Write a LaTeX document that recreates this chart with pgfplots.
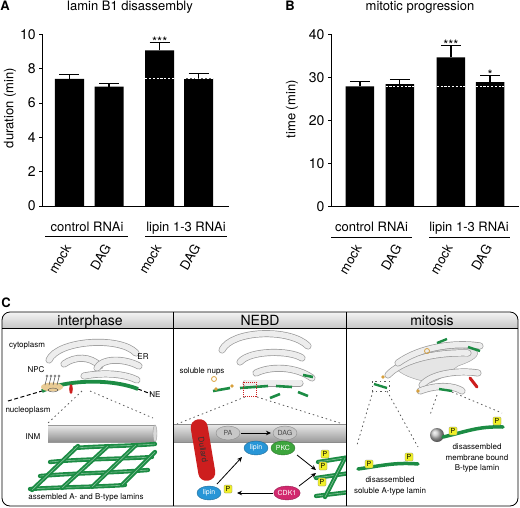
\documentclass[border=0pt]{standalone}
\usepackage{fontspec}
\setmainfont{TeX Gyre Heros}
\usepackage{pgfplots}
\pgfplotsset{compat=1.18}
\usetikzlibrary{arrows.meta,shapes.geometric}
\definecolor{lgreen}{RGB}{28,140,68}
\definecolor{lblue}{RGB}{40,150,215}
\definecolor{pkc}{RGB}{60,165,60}
\definecolor{cdk}{RGB}{210,40,110}
\definecolor{dull}{RGB}{205,30,30}
\definecolor{pyel}{RGB}{240,240,40}
\definecolor{orng}{RGB}{215,160,60}
\newcommand{\fs}[1]{\fontsize{#1}{#1}\selectfont}
\tikzset{
  er/.style={line width=7pt, draw=black!40, line cap=round},
  eri/.style={line width=5.6pt, draw=black!7, line cap=round},
  P/.style={fill=pyel, draw=black!50, line width=0.3pt, rounded corners=1pt, inner sep=0.6pt, minimum size=8pt, font=\fs{7}},
  lam/.style={lgreen, line width=3.5pt, line cap=round},
  mesh/.style={lgreen, line width=4.3pt, line cap=round},
  dots/.style={black!65, line width=0.8pt, dash pattern=on 1.5pt off 3pt},
  arr/.style={-{Stealth[length=5pt,width=4.5pt]}, line width=0.8pt},
  prot/.style={ellipse, minimum width=24pt, minimum height=14pt, inner sep=0pt, font=\fs{7}},
}
\newcommand{\er}[1]{\draw[er] #1; \draw[eri] #1;}
\pgfplotsset{
  common/.style={
    anchor=south west, scale only axis,
    axis x line*=bottom, axis y line*=left,
    axis line style={line width=0.9pt},
    every tick/.style={black, line width=0.9pt},
    tick align=outside, major tick length=3.5pt,
    xtick={0,1,2.28,3.26}, xticklabels={mock,DAG,mock,DAG},
    xtick style={draw=none},
    xticklabel style={rotate=60, anchor=east, font=\fs{13}},
    xticklabel shift=33pt,
    yticklabel style={font=\fs{14}},
    /pgf/number format/assume math mode=true,
    clip=false,
  },
  errs/.style={ybar, bar shift=0pt, fill=black, draw=none,
    error bars/.cd, y dir=plus, y explicit,
    error bar style={line width=1.2pt, black},
    error mark options={rotate=90, mark size=10pt, line width=1.2pt, black}},
  dsh/.style={white, line width=1.2pt, dash pattern=on 2.2pt off 1.6pt},
}
\begin{document}
\begin{tikzpicture}
\path[use as bounding box] (0pt,0pt) rectangle (520pt,-507pt);

% ---------- Panel A ----------
\begin{axis}[common,
  at={(42.7pt,-206pt)}, width=186.3pt, height=171.7pt,
  xmin=-0.677, xmax=4.03, ymin=0, ymax=10,
  ytick={0,2,4,6,8,10},
  ylabel={duration (min)},
  ylabel style={font=\fs{13}, at={(axis description cs:-0.176,0.571)}, anchor=center},
]
\addplot[bar width=0.733, errs] coordinates {
  (0,7.40) +- (0,0.27)
  (1,6.95) +- (0,0.19)
  (2.28,9.07) +- (0,0.44)
  (3.26,7.44) +- (0,0.29)};
\addplot[dsh] coordinates {(1.914,7.42) (2.646,7.42)};
\addplot[dsh] coordinates {(2.894,7.42) (3.626,7.42)};
\node[font=\fs{13}, anchor=base] at (axis cs:2.28,9.31) {***};
\end{axis}

% ---------- Panel B ----------
\begin{axis}[common,
  at={(331.5pt,-206.3pt)}, width=187.5pt, height=172pt,
  xmin=-0.714, xmax=3.985, ymin=0, ymax=40,
  ytick={0,10,20,30,40},
  ylabel={time (min)},
  ylabel style={font=\fs{13}, at={(axis description cs:-0.21,0.564)}, anchor=center},
]
\addplot[bar width=0.714, errs] coordinates {
  (0,27.9) +- (0,1.1)
  (1,28.4) +- (0,1.0)
  (2.28,34.65) +- (0,2.7)
  (3.26,28.9) +- (0,1.5)};
\addplot[dsh] coordinates {(0.643,27.9) (1.357,27.9)};
\addplot[dsh] coordinates {(1.923,27.9) (2.637,27.9)};
\addplot[dsh] coordinates {(2.903,27.9) (3.617,27.9)};
\node[font=\fs{13}, anchor=base] at (axis cs:2.28,36.55) {***};
\node[font=\fs{13}, anchor=base] at (axis cs:3.26,29.6) {*};
\end{axis}

\begin{scope}[x=1pt,y=-1pt]
% titles and panel letters
\node[font=\bfseries\fs{13}, anchor=base] at (5,10) {A};
\node[font=\fs{13}, anchor=base] at (130,10) {lamin B1 disassembly};
\node[font=\bfseries\fs{13}, anchor=base] at (290,10) {B};
\node[font=\fs{13}, anchor=base] at (420,10) {mitotic progression};
% group labels
\node[font=\fs{13}, anchor=base] at (87,231) {control RNAi};
\draw[line width=0.9pt] (45,236.5) -- (128,236.5);
\node[font=\fs{13}, anchor=base] at (186,231) {lipin 1-3 RNAi};
\draw[line width=0.9pt] (145,236.5) -- (227,236.5);
\node[font=\fs{13}, anchor=base] at (371.5,231) {control RNAi};
\draw[line width=0.9pt] (331,237) -- (412,237);
\node[font=\fs{13}, anchor=base] at (469,231) {lipin 1-3 RNAi};
\draw[line width=0.9pt] (429,237) -- (510,237);

% ---------- Panel C ----------
\node[font=\bfseries\fs{13}, anchor=base] at (6,307) {C};
\begin{scope}
\clip[rounded corners=8pt] (2,312) rectangle (518,506);
\shade[top color=black!4, bottom color=black!22] (2,312) rectangle (518,328);
\end{scope}
\node[font=\fs{14}, anchor=base] at (90,325) {interphase};
\node[font=\fs{14}, anchor=base] at (260,325) {NEBD};
\node[font=\fs{14}, anchor=base] at (432,325) {mitosis};

% interphase
\er{(49,360) .. controls (58,340) and (120,336) .. (136,353)}
\er{(64,364) .. controls (75,356) and (90,356) .. (100,366)}
\er{(97,368) .. controls (102,358) and (124,358) .. (139,366)}
\er{(84,376) .. controls (105,372) and (125,374) .. (137,380)}
\draw[lgreen, line width=3.8pt] (42,391) .. controls (65,380) and (110,378) .. (138,389);
\draw[line width=1pt, dash pattern=on 4pt off 2.5pt] (8,401) -- (42,391);
\draw[line width=1pt, dash pattern=on 4pt off 2.5pt] (138,389) -- (151,394);
\fill[orng!55] (52,387) ellipse [x radius=11, y radius=4.5];
\foreach \x in {45,49,53,57} {\draw[black!70, line width=0.5pt] (\x,385) -- (\x+2,377); \draw[black!70, line width=0.4pt] (\x+2,376) circle (1.2pt);}
\draw[black!70, line width=0.4pt] (53,390) ellipse [x radius=5, y radius=2];
\fill[dull] (71,389) ellipse [x radius=1.8, y radius=5];
\draw[dots] (82,391) -- (48,423);
\draw[dots] (90,391) -- (153,418);
\shade[top color=black!8, bottom color=black!45] (48,425) rectangle (155,442);
\draw[black!40, line width=0.4pt] (48,425) -- (155,425) (48,442) -- (155,442);
\draw[black!40, line width=0.4pt, fill=black!15] (155,433.5) ellipse [x radius=2, y radius=8.5];
\foreach \p in {
  {(75,448) .. controls (100,446) and (130,446) .. (155,444)},
  {(50,462) .. controls (80,459) and (120,459) .. (152,457)},
  {(40,476) .. controls (75,473) and (110,473) .. (148,470)},
  {(30,489) .. controls (60,487) and (95,487) .. (125,485)},
  {(32,490) -- (78,446)}, {(62,488) -- (108,446)},
  {(92,487) -- (136,445)}, {(122,485) -- (155,452)}}
  {\draw[mesh] \p; \draw[lgreen!55!white, line width=0.6pt] \p;}
\node[font=\fs{8}] at (27,345) {cytoplasm};
\node[font=\fs{8}] at (143,357) {ER};
\node[font=\fs{8}] at (36,370) {NPC};
\node[font=\fs{8}] at (155,395) {NE};
\node[font=\fs{8}] at (28,410) {nucleoplasm};
\node[font=\fs{8}] at (33,437) {INM};
\node[font=\fs{8}] at (86,497) {assembled A- and B-type lamins};

% NEBD
\er{(222,350) .. controls (232,330) and (290,328) .. (308,346)}
\er{(240,362) .. controls (250,350) and (290,350) .. (302,358)}
\er{(256,373) .. controls (270,366) and (295,366) .. (312,378)}
\er{(246,383) -- (300,383)}
\foreach \p in {{(213,391) -- (230,388)}, {(240,388) -- (268,386)}, {(276,386) -- (292,387)},
  {(298,392) -- (308,396)}, {(303,375) -- (313,377)}, {(270,398) -- (280,394)}}
  {\draw[lgreen, line width=2.6pt] \p;}
\draw[orng, line width=0.8pt] (214,379) circle (2.5pt);
\fill[orng] (216,389) circle (1.8pt);
\fill[orng] (232,386) circle (1.8pt);
\draw[dull, dash pattern=on 1pt off 1pt, line width=0.5pt] (243,382) rectangle (256,396);
\node[font=\fs{8}] at (202,371) {soluble nups};
\draw[dots] (245,397) -- (177,424);
\draw[dots] (257,397) -- (340,423);
\shade[top color=black!8, bottom color=black!40] (173,424) rectangle (346,442);
\draw[black!45, line width=0.4pt] (173,424) -- (346,424) (173,442) -- (346,442);
\node[fill=dull, rounded corners=8pt, minimum width=62pt, minimum height=17pt, rotate=-80.5, font=\fs{8}, text=black!80] at (203,450) {Dullard};
\node[prot, fill=black!22, draw=black!45, text=black!70] at (228,433) {PA};
\node[prot, fill=black!22, draw=black!45, text=black!70] at (285,433) {DAG};
\node[prot, fill=lblue, draw=lblue!70!black, text=white] at (256,448) {lipin};
\node[prot, fill=pkc, draw=pkc!70!black, text=white] at (283,448) {PKC};
\node[prot, fill=lblue, draw=lblue!70!black, text=white] at (209,493) {lipin};
\node[P] at (228,489) {P};
\node[prot, fill=cdk, draw=cdk!70!black, text=white] at (287,493) {CDK1};
\draw[arr] (241,433) -- (271,433);
\draw[arr] (217,484) -- (242,457);
\draw[arr] (273,493) -- (237,493);
\draw[arr] (297,455) -- (316,470);
\draw[arr] (299,486) -- (316,473);
\begin{scope}
\clip (173,328) rectangle (346,506);
\foreach \p in {{(318,462) -- (350,457)}, {(316,478) -- (350,473)}, {(316,496) -- (350,492)}, {(325,497) -- (345,458)}}
  {\draw[mesh] \p; \draw[lgreen!55!white, line width=0.6pt] \p;}
\node[P] at (325,454) {P};
\node[P] at (323,466) {P};
\node[P] at (322,482) {P};
\end{scope}

% mitosis
\fill[black!10, draw=black!40, line width=0.4pt] (395,368) .. controls (420,350) and (455,345) .. (476,350)
  .. controls (482,356) and (470,362) .. (458,366) .. controls (450,372) and (440,380) .. (430,383)
  .. controls (420,380) and (405,378) .. (395,368) -- cycle;
\er{(388,375) .. controls (400,362) and (430,352) .. (468,353)}
\er{(398,363) .. controls (420,347) and (455,342) .. (480,346)}
\er{(422,385) .. controls (432,373) and (460,370) .. (478,373)}
\er{(420,391) .. controls (438,384) and (455,386) .. (462,391)}
\foreach \p in {{(437,343) -- (447,339)}, {(468,347) -- (480,351)}, {(374,384) -- (387,388)}, {(439,389) -- (452,391)}}
  {\draw[lgreen, line width=2.4pt] \p;}
\draw[dots, line width=0.5pt] (372,381) rectangle (389,391);
\draw[orng, line width=0.8pt] (427,351) circle (2.5pt);
\fill[orng] (383,377) circle (1.8pt);
\fill[orng] (418,391) circle (1.8pt);
\draw[dull, line width=3pt, line cap=round] (470,378) -- (477,387);
\draw[dots] (373,391) -- (357,445);
\draw[dots] (387,391) -- (418,447);
\draw[dots] (437,395) -- (430,415);
\draw[dots] (452,392) -- (502,413);
\shade[ball color=black!25] (437,435) circle (7pt);
\draw[lam] (443,437) .. controls (465,432) and (478,426) .. (503,427);
\node[P] at (453,431) {P};
\node[P] at (497,421) {P};
\node[font=\fs{8}] at (477,447) {disassembled};
\node[font=\fs{8}] at (477,458) {membrane bound};
\node[font=\fs{8}] at (477,468) {B-type lamin};
\draw[lam] (358,469) .. controls (380,466) and (395,462) .. (418,464);
\node[P] at (369,464) {P};
\node[P] at (409,457) {P};
\node[font=\fs{8}] at (390,480) {disassembled};
\node[font=\fs{8}] at (390,491) {soluble A-type lamin};

% frame
\draw[line width=0.8pt, rounded corners=8pt] (2,312) rectangle (518,506);
\draw[line width=0.8pt] (2,328) -- (518,328) (173,312) -- (173,506) (346,312) -- (346,506);
\end{scope}
\end{tikzpicture}
\end{document}
